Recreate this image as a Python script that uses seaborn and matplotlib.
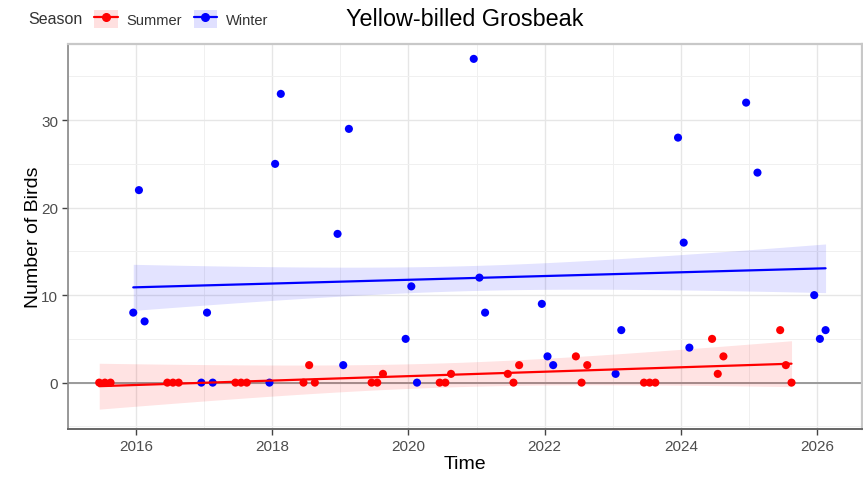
import numpy as np
import pandas as pd
import matplotlib
matplotlib.use("Agg")
import matplotlib.pyplot as plt
import seaborn as sns
from matplotlib.lines import Line2D
from matplotlib.patches import Patch
from matplotlib.ticker import MultipleLocator, FixedLocator

# ---- data ----
summer_year = [2015]*3 + [2016]*3 + [2017]*3 + [2018]*3 + [2019]*3 + [2020]*3 + \
              [2021]*3 + [2022]*3 + [2023]*3 + [2024]*3 + [2025]*3
summer_month = [6, 7, 8] * 11
summer_count = [0, 0, 0, 0, 0, 0, 0, 0, 0, 0, 2, 0, 0, 0, 1, 0, 0, 1,
                1, 0, 2, 3, 0, 2, 0, 0, 0, 5, 1, 3, 6, 2, 0]

winter_year = [2015, 2016, 2016, 2016, 2017, 2017, 2017, 2018, 2018,
               2018, 2019, 2019, 2019, 2020, 2020, 2020, 2021, 2021,
               2021, 2022, 2022, 2023, 2023, 2023, 2024, 2024,
               2024, 2025, 2025, 2026, 2026]
winter_month = [12, 1, 2, 12, 1, 2, 12, 1, 2, 12, 1, 2, 12, 1, 2, 12, 1, 2,
                12, 1, 2, 1, 2, 12, 1, 2, 12, 2, 12, 1, 2]
winter_count = [8, 22, 7, 0, 8, 0, 0, 25, 33, 17, 2, 29, 5, 11, 0, 37, 12, 8,
                9, 3, 2, 1, 6, 28, 16, 4, 32, 24, 10, 5, 6]

seasons = ["Summer", "Winter"]
season_colors = {"Summer": "#FF0000", "Winter": "#0000FF"}
x_ticks = [2016, 2018, 2020, 2022, 2024, 2026]
y_ticks = [0, 10, 20, 30]
title = "Yellow-billed Grosbeak"

summer = pd.DataFrame({"Season": "Summer",
                       "Time": np.array(summer_year) + (np.array(summer_month) - 0.5) / 12,
                       "Count": summer_count})
winter = pd.DataFrame({"Season": "Winter",
                       "Time": np.array(winter_year) + (np.array(winter_month) - 0.5) / 12,
                       "Count": winter_count})
df = pd.concat([summer, winter], ignore_index=True)

# pooled-variance linear model (Count ~ Time * Season) for the confidence band
fits = {}
rss = 0.0
for s in seasons:
    d = df[df.Season == s]
    b, a = np.polyfit(d.Time, d.Count, 1)
    rss += float(np.sum((d.Count - (a + b * d.Time)) ** 2))
    fits[s] = (a, b, d.Time.mean(), float(np.sum((d.Time - d.Time.mean()) ** 2)), len(d),
               d.Time.min(), d.Time.max())
sigma = np.sqrt(rss / (len(df) - 4))

# ---- figure ----
sns.set_theme(style="white")
plt.rcParams["font.family"] = ["Liberation Sans", "DejaVu Sans"]

fig = plt.figure(figsize=(8.63, 4.81), dpi=100)
ax = fig.add_axes([68 / 863, 51 / 481, 794 / 863, 385 / 481])

ax.axhline(0, color="#9A9A9A", lw=1.4, zorder=1)

for s in seasons:
    a, b, tbar, sxx, n, tmin, tmax = fits[s]
    tt = np.linspace(tmin, tmax, 100)
    se = sigma * np.sqrt(1 / n + (tt - tbar) ** 2 / sxx)
    ax.fill_between(tt, a + b * tt - se, a + b * tt + se, color=season_colors[s],
                    alpha=0.11, lw=0, zorder=2)

sns.scatterplot(data=df, x="Time", y="Count", hue="Season", palette=season_colors,
                s=34, edgecolor="none", legend=False, ax=ax, zorder=3)

for s in seasons:
    sns.regplot(data=df[df.Season == s], x="Time", y="Count", scatter=False, ci=None,
                color=season_colors[s], truncate=True,
                line_kws={"lw": 1.6, "zorder": 4}, ax=ax)

ax.set_xlim(2015.0, 2026.66)
ax.set_ylim(-5.3, 38.7)
ax.xaxis.set_major_locator(FixedLocator(x_ticks))
ax.xaxis.set_minor_locator(MultipleLocator(1))
ax.yaxis.set_major_locator(FixedLocator(y_ticks))
ax.yaxis.set_minor_locator(FixedLocator([-5, 5, 15, 25, 35]))
ax.set_xticklabels([str(v) for v in x_ticks])
ax.set_yticklabels([str(v) for v in y_ticks])

ax.grid(which="major", color="#E6E6E6", lw=1.0)
ax.grid(which="minor", color="#F0F0F0", lw=0.7)
ax.set_axisbelow(True)

ax.tick_params(axis="both", which="major", length=4, width=1, color="#444444",
               labelsize=11, labelcolor="#4D4D4D", pad=3, bottom=True, left=True)
ax.tick_params(axis="both", which="minor", length=0)

for side in ["top", "right"]:
    ax.spines[side].set_color("#C8C8C8")
    ax.spines[side].set_linewidth(1.6)
ax.spines["left"].set_color("#888888")
ax.spines["left"].set_linewidth(1.2)
ax.spines["bottom"].set_color("#666666")
ax.spines["bottom"].set_linewidth(1.4)

ax.set_xlabel("Time", fontsize=14, color="black", labelpad=2)
ax.set_ylabel("Number of Birds", fontsize=14, color="black", labelpad=-0.5)

fig.text(465 / 863, 1 - 20 / 481, title, ha="center", va="center", fontsize=16.8, color="black")

# legend
fig.text(28 / 863, 1 - 20 / 481, "Season", ha="left", va="center", fontsize=11.5, color="#333333")
handles = []
for s in seasons:
    c = season_colors[s]
    handles.append((Patch(facecolor=c, alpha=0.12, edgecolor="none"),
                    Line2D([], [], color=c, lw=1.6, marker="o", markersize=5.5)))
fig.legend(handles, seasons, loc="center left", bbox_to_anchor=(87 / 863, 1 - 20 / 481),
           ncol=2, frameon=False, fontsize=10.5, handlelength=1.6, handleheight=1.6,
           handletextpad=0.6, columnspacing=0.8, borderpad=0, labelcolor="#333333")

fig.savefig("out.png", dpi=100)
